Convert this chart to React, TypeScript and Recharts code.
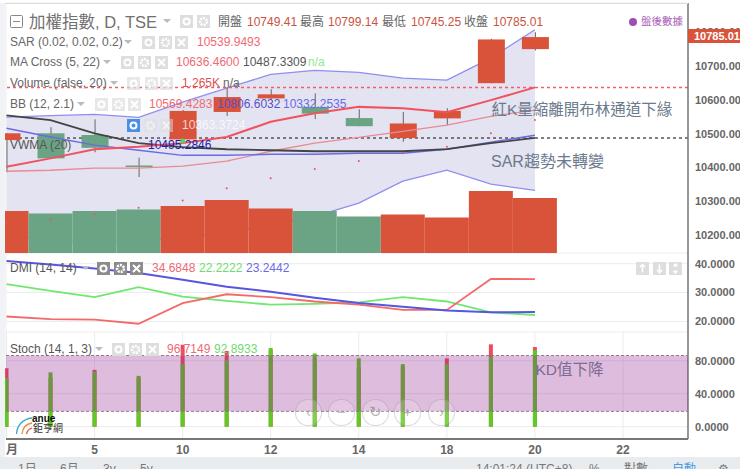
import React from 'react';
import { ComposedChart, Area, Bar, Line, Cell, XAxis, YAxis, CartesianGrid, ReferenceLine, ReferenceArea, ReferenceDot } from 'recharts';

const FONT = '"Liberation Sans", "Noto Sans CJK TC", sans-serif';
const RED = '#d9533b';
const GREEN = '#6ba484';

const days = ['月', '4', '5', '9', '10', '11', '12', '13', '14', '17', '18', '19', '20', '21', '22'];

// candles
const opens = [10481, 10501, 10496, 10406, 10483, 10564, 10604, 10579, 10546, 10487, 10545, 10649, 10749.41];
const closes = [10501, 10427, 10458, 10405, 10567, 10608, 10616, 10559, 10522, 10530, 10567, 10778, 10785.01];
const highs = [10501, 10519, 10542, 10429, 10570, 10637, 10631, 10619, 10572, 10564, 10575, 10780, 10799.14];
const lows = [10386, 10427, 10445, 10372, 10480, 10552, 10599, 10543, 10522, 10476, 10525, 10649, 10745.25];
const volumes = [966, 906, 966, 998, 1081, 1219, 1021, 966, 837, 883, 814, 1426, 1265];

// overlays on the price panel
const bbUpper = [10549, 10553, 10557, 10548, 10593, 10634, 10675, 10687, 10681, 10664, 10658, 10723, 10806.6];
const bbBasis = [10389, 10392, 10398, 10398, 10404, 10419, 10448, 10472, 10489, 10507, 10525, 10551, 10569.43];
const bbLower = [10200, 10185, 10176, 10185, 10191, 10209, 10227, 10256, 10295, 10360, 10392, 10351, 10332.25];
const maFast = [10402, 10427, 10454, 10461, 10472, 10490, 10535, 10560, 10579, 10575, 10563, 10599, 10636.46];
const maSlow = [10554, 10540, 10501, 10472, 10460, 10454, 10451, 10448, 10448, 10448, 10454, 10472, 10487.33];
const vwma = [10516, 10490, 10466, 10451, 10436, 10436, 10439, 10439, 10442, 10442, 10454, 10475, 10495.28];
const sar = [10235, 10247, 10262, 10281, 10303, 10339, 10368, 10396, 10419, 10442, 10461, 10501, 10539.95];

// DMI
const diPlus = [21.7, 20.8, 20.6, 19.2, 26.3, 29.4, 28.4, 26.9, 25.8, 24, 24, 34.7, 34.68];
const diMinus = [32.9, 30.6, 28.4, 31.9, 28.6, 27.1, 25.8, 26.1, 26.6, 28.4, 26.9, 23.1, 22.22];
const adx = [40.9, 39.7, 38.3, 36.8, 34.4, 32, 30.3, 28.2, 26.4, 25.1, 23.8, 23.2, 23.24];

// Stoch
const stochK = [71, 59, 69, 59, 99.5, 92, 93, 83, 72, 73, 83, 100, 96.71];
const stochD = [59, 66, 66.6, 61.7, 76, 81, 95.5, 89, 83, 76, 76, 85, 92.89];

const priceTicks = [10200, 10300, 10400, 10500, 10600, 10700, 10800];
const dmiTicks = [20, 30, 40];
const stochTicks = [0, 40, 80];
const priceDomain: [number, number] = [10147.7, 10885.6];
const volumeDomain: [number, number] = [0, 5743];
const stochDomain: [number, number] = [-15, 115];

const rows = days.map((day, i) => ({
  day,
  candle: i < lows.length ? [lows[i], highs[i]] : null,
  open: opens[i],
  close: closes[i],
  high: highs[i],
  low: lows[i],
  volume: volumes[i],
  band: i < bbLower.length ? [bbLower[i], bbUpper[i]] : null,
  bbBasis: bbBasis[i],
  maFast: maFast[i],
  maSlow: maSlow[i],
  vwma: vwma[i],
  sar: sar[i],
  diPlus: diPlus[i],
  diMinus: diMinus[i],
  adx: adx[i],
  stochK: stochK[i],
  stochD: stochD[i],
}));

const CandleShape = (props: any) => {
  const { x, y, width, height, payload } = props;
  if (!payload || payload.high == null) return null;
  const perUnit = height / (payload.high - payload.low);
  const top = y + (payload.high - Math.max(payload.open, payload.close)) * perUnit;
  const bottom = y + (payload.high - Math.min(payload.open, payload.close)) * perUnit;
  const color = payload.close >= payload.open ? RED : GREEN;
  const cx = x + width / 2;
  return (
    <g>
      <line x1={cx} x2={cx} y1={y} y2={y + height} stroke="#666" strokeWidth={1} />
      <rect x={x} y={top} width={width} height={Math.max(bottom - top, 1.5)} fill={color} />
    </g>
  );
};

// the band runs past the last category, up to the price axis
const StochBand = (props: any) => (
  <rect x={6} y={props.y} width={682} height={props.height} fill="#91208e" fillOpacity={0.3} />
);

const DayTick = (props: any) => {
  const { x, y, payload } = props;
  return (
    <text x={payload.value === '月' ? x + 5.5 : x} y={y + 7} textAnchor="middle" fontSize={12} fontWeight={700} fill="#666" fontFamily={FONT}>
      {payload.value}
    </text>
  );
};

const axisFont = { fontSize: 11, fontWeight: 700, fill: '#666', fontFamily: FONT };
const xAxisLine = { stroke: '#777', strokeWidth: 1.5 };
const yAxisLine = { stroke: '#777', strokeWidth: 1.5 };
const chartMargin = { top: 0, right: 0, bottom: 0, left: 6 };
const layerMargin = { top: 0, right: 52, bottom: 0, left: 6 };
const layerStyle: React.CSSProperties = { position: 'absolute', left: 0 };
const pointAxis = { dataKey: 'day', scale: 'point', interval: 1, padding: { left: 0.5, right: 65 } } as any;

const T: React.FC<{ x: number; y: number; c?: string; s?: number; b?: boolean; o?: number; children: React.ReactNode }> = ({ x, y, c = '#666', s = 12, b, o = 1, children }) => (
  <div style={{ position: 'absolute', left: x, top: y - 10, height: 20, lineHeight: '20px', fontSize: s, color: c, opacity: o, fontWeight: b ? 700 : 400, whiteSpace: 'nowrap', fontFamily: FONT }}>
    {children}
  </div>
);

const Icon: React.FC<{ x: number; y: number; kind: string; bg?: string; o?: number }> = ({ x, y, kind, bg = '#dedede', o = 1 }) => (
  <svg width={13} height={13} style={{ position: 'absolute', left: x, top: y - 6.5, opacity: o }}>
    <rect width={13} height={13} fill={bg} />
    {kind === 'eye' && <circle cx={6.5} cy={6.5} r={3} fill="none" stroke="#fff" strokeWidth={2} />}
    {kind === 'gear' && <circle cx={6.5} cy={6.5} r={3.4} fill="none" stroke="#fff" strokeWidth={2.6} strokeDasharray="2 1" />}
    {kind === 'x' && <path d="M3 3 L10 10 M10 3 L3 10" stroke="#fff" strokeWidth={2} />}
    {kind === 'up' && <path d="M6.5 2.5 V10.5 M4 5 L6.5 2.5 L9 5" stroke="#fff" strokeWidth={1.6} fill="none" />}
    {kind === 'down' && <path d="M6.5 2.5 V10.5 M4 8 L6.5 10.5 L9 8" stroke="#fff" strokeWidth={1.6} fill="none" />}
    {kind === 'both' && <path d="M6.5 2 V5 M6.5 8 V11 M4.5 4 L6.5 2 L8.5 4 M4.5 9 L6.5 11 L8.5 9" stroke="#fff" strokeWidth={1.4} fill="none" />}
  </svg>
);

const Icons: React.FC<{ xs: number[]; y: number; bg?: string; o?: number }> = ({ xs, y, bg, o }) => (
  <>
    <Icon x={xs[0]} y={y} kind="eye" bg={bg} o={o} />
    <Icon x={xs[1]} y={y} kind="gear" bg={bg} o={o} />
    <Icon x={xs[2]} y={y} kind="x" bg={bg} o={o} />
  </>
);

const Caret: React.FC<{ x: number; y: number }> = ({ x, y }) => (
  <svg width={8} height={5} style={{ position: 'absolute', left: x, top: y - 2 }}>
    <path d="M0 0 H8 L4 4 Z" fill="#bbb" />
  </svg>
);

const NavCircle: React.FC<{ x: number; glyph: string }> = ({ x, glyph }) => (
  <div style={{ position: 'absolute', left: x - 13, top: 399, width: 25, height: 25, borderRadius: 13, border: '1px solid rgba(130,130,130,0.3)', background: 'rgba(255,255,255,0.18)', color: 'rgba(120,120,120,0.55)', textAlign: 'center', lineHeight: '24px', fontSize: 15, fontFamily: FONT }}>
    {glyph}
  </div>
);

export default function App() {
  return (
    <div style={{ position: 'absolute', left: 0, top: 0, width: 740, height: 469, overflow: 'hidden', background: '#fff', fontFamily: FONT }}>
      {/* price panel: band and volume underneath */}
      <div style={{ ...layerStyle, top: 0 }}>
        <ComposedChart width={740} height={253} data={rows} margin={{ ...chartMargin, top: 3 }}>
          <CartesianGrid stroke="#ececec" />
          <XAxis {...pointAxis} height={0} tick={false} tickLine={false} axisLine={xAxisLine} />
          <YAxis yAxisId="price" orientation="right" width={52} domain={priceDomain} ticks={priceTicks} tickFormatter={(v: number) => v.toFixed(2)} tick={axisFont} tickLine={false} tickMargin={1} axisLine={yAxisLine} interval={0} />
          <YAxis yAxisId="vol" hide domain={volumeDomain} />
          <Area yAxisId="price" dataKey="band" stroke="#8f8ff0" strokeWidth={1.3} fill="#e3e3f1" fillOpacity={1} isAnimationActive={false} />
          <ReferenceLine yAxisId="price" y={10636.46} stroke="#f0606a" strokeDasharray="3 3" strokeWidth={1.5} />
          <ReferenceLine yAxisId="price" y={10487.33} stroke="#555" strokeDasharray="3 3" strokeWidth={1.5} />
          <Bar yAxisId="vol" dataKey="volume" barSize={44} isAnimationActive={false}>
            {opens.map((o, i) => (
              <Cell key={i} fill={closes[i] >= o ? RED : GREEN} />
            ))}
          </Bar>
        </ComposedChart>
      </div>

      {/* price panel: candles and lines on top */}
      <div style={{ ...layerStyle, top: 0 }}>
        <ComposedChart width={740} height={253} data={rows} margin={{ ...layerMargin, top: 3 }}>
          <XAxis {...pointAxis} hide />
          <YAxis hide domain={priceDomain} />
          <Bar dataKey="candle" barSize={27} shape={CandleShape} isAnimationActive={false} />
          <Line dataKey="bbBasis" stroke="#ea8a92" strokeWidth={1.3} dot={false} isAnimationActive={false} />
          <Line dataKey="vwma" stroke="#6a6ae6" strokeWidth={1.4} dot={false} isAnimationActive={false} />
          <Line dataKey="maSlow" stroke="#444" strokeWidth={1.8} dot={false} isAnimationActive={false} />
          <Line dataKey="maFast" stroke="#f2525f" strokeWidth={2} dot={false} isAnimationActive={false} />
          <Line dataKey="sar" stroke="none" dot={{ r: 1, fill: '#f0505a', stroke: 'none' }} isAnimationActive={false} />
          <ReferenceDot x="10" y={10478} r={2.5} fill="#55d655" stroke="none" />
        </ComposedChart>
      </div>

      {/* DMI panel */}
      <div style={{ ...layerStyle, top: 253 }}>
        <ComposedChart width={740} height={79} data={rows} margin={chartMargin}>
          <CartesianGrid stroke="#ececec" />
          <XAxis {...pointAxis} height={0} tick={false} tickLine={false} axisLine={xAxisLine} />
          <YAxis orientation="right" width={52} domain={[16.34, 43.69]} ticks={dmiTicks} tickFormatter={(v: number) => v.toFixed(4)} tick={axisFont} tickLine={false} tickMargin={1} axisLine={yAxisLine} interval={0} />
          <Line dataKey="diMinus" stroke="#6fe86f" strokeWidth={1.8} dot={false} isAnimationActive={false} />
          <Line dataKey="diPlus" stroke="#f46a6a" strokeWidth={1.8} dot={false} isAnimationActive={false} />
          <Line dataKey="adx" stroke="#5656e0" strokeWidth={2} dot={false} isAnimationActive={false} />
        </ComposedChart>
      </div>

      {/* Stoch panel */}
      <div style={{ ...layerStyle, top: 332 }}>
        <ComposedChart width={740} height={125} data={rows} margin={chartMargin} barGap={-4}>
          <CartesianGrid stroke="#ececec" />
          <XAxis {...pointAxis} height={18} tick={DayTick} tickLine={false} axisLine={{ stroke: '#777', strokeWidth: 2 }} />
          <YAxis orientation="right" width={52} domain={stochDomain} ticks={stochTicks} tickFormatter={(v: number) => v.toFixed(4)} tick={axisFont} tickLine={false} tickMargin={1} axisLine={yAxisLine} interval={0} />
          <Bar dataKey="stochK" barSize={4} fill="#ef4b5f" isAnimationActive={false} />
          <Bar dataKey="stochD" barSize={4} fill="#5ccb22" isAnimationActive={false} />
        </ComposedChart>
      </div>

      {/* Stoch band goes over the bars */}
      <div style={{ ...layerStyle, top: 332 }}>
        <ComposedChart width={740} height={125} data={rows} margin={{ ...layerMargin, bottom: 18 }}>
          <XAxis {...pointAxis} hide />
          <YAxis hide domain={stochDomain} />
          <Line dataKey="stochK" stroke="none" dot={false} isAnimationActive={false} />
          <ReferenceArea y1={18.6} y2={86.4} shape={StochBand} />
          <ReferenceLine y={86.4} stroke="#8e7a8e" strokeDasharray="3 2" />
          <ReferenceLine y={18.6} stroke="#8e7a8e" strokeDasharray="3 2" />
        </ComposedChart>
      </div>

      {/* page furniture around the plot */}
      <div style={{ position: 'absolute', left: 0, top: 3, width: 5, height: 454, background: '#f0f2f6' }} />
      <div style={{ position: 'absolute', left: 5, top: 3, width: 683, height: 1, background: '#dcdcdc' }} />
      <div style={{ position: 'absolute', left: 688, top: 29, width: 52, height: 14, background: RED, color: '#fff', fontSize: 11, fontWeight: 700, lineHeight: '15px', paddingLeft: 6, boxSizing: 'border-box', whiteSpace: 'nowrap', overflow: 'hidden' }}>10785.01</div>

      {/* header */}
      <svg width={14} height={14} style={{ position: 'absolute', left: 10, top: 15 }}>
        <rect x={0.5} y={0.5} width={12} height={12} fill="none" stroke="#888" rx={1} />
        <path d="M3 6.5 H10" stroke="#888" />
      </svg>
      <T x={29} y={22} s={16.5} c="#707070">加權指數, D, TSE</T>
      <Caret x={163} y={21} />
      <Icon x={180} y={21} kind="eye" />
      <Icon x={197} y={21} kind="gear" />
      <T x={218} y={22}>開盤</T>
      <T x={247} y={22} c="#c9533f">10749.41</T>
      <T x={300} y={22}>最高</T>
      <T x={328} y={22} c="#c9533f">10799.14</T>
      <T x={382} y={22}>最低</T>
      <T x={411} y={22} c="#c9533f">10745.25</T>
      <T x={464} y={22}>收盤</T>
      <T x={493} y={22} c="#c9533f">10785.01</T>
      <div style={{ position: 'absolute', left: 629, top: 18, width: 8, height: 8, borderRadius: 4, background: '#a24bb2' }} />
      <T x={641} y={21} s={10.5} c="#a860b8">盤後數據</T>

      <T x={10} y={42}>SAR (0.02, 0.02, 0.2)</T>
      <Caret x={124} y={42} />
      <Icons xs={[142, 159, 175]} y={42} />
      <T x={197} y={42} c="#ef6a72">10539.9493</T>

      <T x={10} y={62}>MA Cross (5, 22)</T>
      <Caret x={103} y={62} />
      <Icons xs={[121, 138, 155]} y={62} />
      <T x={176} y={62} c="#ef6a72">10636.4600</T>
      <T x={243} y={62} c="#555">10487.3309</T>
      <T x={308} y={62} c="#8fe88f">n/a</T>

      <T x={10} y={83}>Volume (false, 20)</T>
      <Caret x={110} y={83} />
      <Icons xs={[127, 145, 160]} y={83} o={0.7} />
      <T x={182} y={83} c="#d9534f">1.265K</T>
      <T x={223} y={83}>n/a</T>

      <T x={10} y={104}>BB (12, 2.1)</T>
      <Caret x={77} y={104} />
      <Icons xs={[95, 112, 128]} y={104} o={0.7} />
      <T x={149} y={104} c="#ef6a72">10569.4283</T>
      <T x={217} y={104} c="#5a4fc8">10806.6032</T>
      <T x={283} y={104} c="#6a6ae6">10332.2535</T>

      <Icon x={127} y={125} kind="eye" bg="#4a90e2" />
      <Icon x={144} y={125} kind="gear" o={0.5} />
      <Icon x={160} y={125} kind="x" o={0.5} />
      <T x={182} y={125} c="#fff" o={0.75}>10363.3724</T>

      <T x={10} y={145} c="#555">VWMA (20)</T>
      <T x={148} y={145} c="#1c1ca8">10495.2846</T>

      <T x={10} y={268} c="#555">DMI (14, 14)</T>
      <Caret x={82} y={268} />
      <Icons xs={[97, 114, 130]} y={268} bg="#8c8c8c" />
      <T x={152} y={268} c="#ef6a72">34.6848</T>
      <T x={199} y={268} c="#6fdc6f">22.2222</T>
      <T x={246} y={268} c="#6a6ae6">23.2442</T>
      <Icon x={636} y={268} kind="up" />
      <Icon x={653} y={268} kind="down" />
      <Icon x={669} y={268} kind="both" />

      <T x={10} y={348.6} c="#555">Stoch (14, 1, 3)</T>
      <Caret x={95} y={349} />
      <Icons xs={[112, 129, 146]} y={349} />
      <T x={167} y={348.6} c="#ef6a72">96.7149</T>
      <T x={214} y={348.6} c="#6fdc6f">92.8933</T>

      {/* annotations */}
      <T x={491.5} y={110} s={15.5} c="#6b7a8c">紅K量縮離開布林通道下緣</T>
      <T x={491} y={161.5} s={16} c="#6b7a8c">SAR趨勢未轉變</T>
      <T x={535.5} y={370} s={15.5} c="#7b6a92">KD值下降</T>

      {/* nav */}
      <NavCircle x={308} glyph="‹" />
      <NavCircle x={341} glyph="−" />
      <NavCircle x={375} glyph="↻" />
      <NavCircle x={407} glyph="+" />
      <NavCircle x={441} glyph="›" />

      {/* logo */}
      <svg width={22} height={18} style={{ position: 'absolute', left: 15, top: 417 }}>
        <path d="M1.5 17 C2 8 8 2 17 1" fill="none" stroke="#3fa7c9" strokeWidth={1.3} />
        <path d="M7 17 C7.5 11 11 7 17 6" fill="none" stroke="#e8903a" strokeWidth={1.3} />
        <path d="M11.5 17 C12 14 14 12 17 11" fill="none" stroke="#d9533b" strokeWidth={1.3} />
      </svg>
      <T x={32} y={419} s={10} b c="#111">anue</T>
      <T x={33} y={429} s={10} c="#333">鉅亨網</T>

      {/* bottom bar */}
      <div style={{ position: 'absolute', left: 0, top: 457, width: 740, height: 12, background: '#e9ecef', overflow: 'hidden' }}>
        <div style={{ position: 'relative', top: 3 }}>
          <T x={18} y={9} c="#777">1日</T>
          <T x={60} y={9} c="#777">6月</T>
          <T x={103} y={9} c="#777">3y</T>
          <T x={140} y={9} c="#777">5y</T>
          <T x={476} y={9} c="#777">14:01:24 (UTC+8)</T>
          <T x={589} y={9} c="#777">%</T>
          <T x={624} y={9} c="#777">對數</T>
          <T x={672} y={9} c="#4a9ae2">自動</T>
          <T x={718} y={9} c="#777">⚙</T>
        </div>
      </div>
    </div>
  );
}
